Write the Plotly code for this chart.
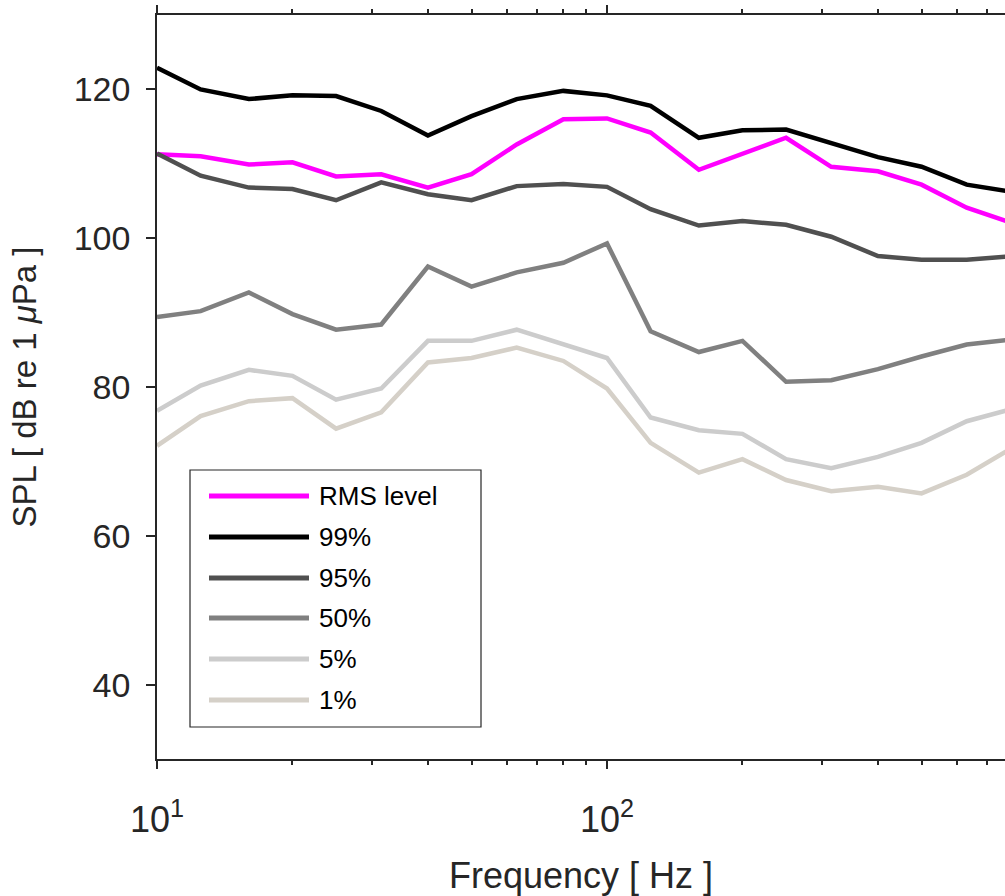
import plotly.graph_objects as go

# ---------------- data ----------------
freq = [10, 12.5, 16, 20, 25, 31.5, 40, 50, 63, 80, 100, 125, 160, 200, 250, 315, 400, 500, 630, 800]

rms   = [111.3, 111.0, 109.9, 110.2, 108.3, 108.6, 106.8, 108.6, 112.6, 116.0, 116.1, 114.2, 109.2, 111.3, 113.5, 109.6, 109.0, 107.2, 104.1, 102.0]
p99   = [122.9, 120.0, 118.7, 119.2, 119.1, 117.1, 113.8, 116.4, 118.7, 119.8, 119.2, 117.8, 113.5, 114.5, 114.6, 112.8, 110.9, 109.6, 107.2, 106.2]
p95   = [111.4, 108.4, 106.8, 106.6, 105.1, 107.5, 105.9, 105.1, 107.0, 107.3, 106.9, 103.9, 101.7, 102.3, 101.8, 100.2, 97.6, 97.1, 97.1, 97.6]
p50   = [89.4, 90.2, 92.7, 89.8, 87.7, 88.4, 96.2, 93.5, 95.4, 96.7, 99.3, 87.5, 84.7, 86.2, 80.7, 80.9, 82.4, 84.1, 85.7, 86.4]
p05   = [76.8, 80.2, 82.3, 81.5, 78.3, 79.8, 86.2, 86.2, 87.7, 85.7, 83.9, 75.9, 74.2, 73.7, 70.3, 69.1, 70.6, 72.5, 75.4, 77.1]
p01   = [72.1, 76.1, 78.1, 78.5, 74.4, 76.6, 83.3, 83.9, 85.3, 83.5, 79.8, 72.5, 68.5, 70.3, 67.5, 66.0, 66.6, 65.7, 68.2, 71.9]

series_names = ["RMS level", "99%", "95%", "50%", "5%", "1%"]
series_vals = [rms, p99, p95, p50, p05, p01]
series_colors = ["#FF00FF", "#000000", "#505050", "#808080", "#CCCCCC", "#D5D0C8"]

xtick_vals = [10, 100]
xtick_text = ["10<sup>1</sup>", "10<sup>2</sup>"]
xminor_vals = [20, 30, 40, 50, 60, 70, 80, 90, 200, 300, 400, 500, 600, 700]
ytick_vals = [40, 60, 80, 100, 120]

# ---------------- layout geometry (pixels) ----------------
W, H = 1005, 896
L, R, T, B = 157, 0, 15, 137
PW, PH = W - L - R, H - T - B
DECADE_PX = 450.0
FONT = "Liberation Sans, Arial, Helvetica, sans-serif"
TXT = "#262626"


def px(x):
    return (x - L) / PW


def py(y):
    return (H - B - y) / PH


fig = go.Figure()
for name, vals, col in zip(series_names, series_vals, series_colors):
    fig.add_trace(go.Scatter(x=freq, y=vals, mode="lines", name=name,
                             line=dict(color=col, width=4.5), showlegend=False))

# ---------------- custom legend (MATLAB style) ----------------
shapes = [dict(type="rect", xref="paper", yref="paper",
               x0=px(190), x1=px(481), y0=py(727), y1=py(470),
               line=dict(color=TXT, width=1.2), fillcolor="white", layer="above")]
annotations = []
row_y = [496, 537, 578, 618, 659, 700]
for name, col, ry in zip(series_names, series_colors, row_y):
    shapes.append(dict(type="line", xref="paper", yref="paper",
                       x0=px(209), x1=px(309), y0=py(ry), y1=py(ry),
                       line=dict(color=col, width=5), layer="above"))
    annotations.append(dict(xref="paper", yref="paper", x=px(317), y=py(ry),
                            text=name, showarrow=False, xanchor="left", yanchor="middle",
                            font=dict(family=FONT, size=26, color="#000000")))

fig.update_layout(
    width=W, height=H,
    margin=dict(l=L, r=R, t=T, b=B, pad=0),
    paper_bgcolor="white", plot_bgcolor="white",
    font=dict(family=FONT, size=34, color=TXT),
    shapes=shapes, annotations=annotations,
    showlegend=False,
)

fig.update_xaxes(
    type="log", range=[1, 1 + PW / DECADE_PX],
    tickvals=xtick_vals, ticktext=xtick_text,
    ticks="outside", ticklen=8, tickwidth=1.5, tickcolor=TXT,
    minor=dict(tickvals=xminor_vals, ticks="outside", ticklen=4, tickwidth=1.5, tickcolor=TXT),
    showline=True, linecolor=TXT, linewidth=1.5, mirror="ticks",
    showgrid=False, zeroline=False,
    ticklabelstandoff=20,
    tickfont=dict(family=FONT, size=36, color=TXT),
    title=dict(text="Frequency [ Hz ]", font=dict(family=FONT, size=36, color=TXT), standoff=24),
)
fig.update_yaxes(
    range=[30, 130], tickvals=ytick_vals,
    ticks="outside", ticklen=9, tickwidth=1.5, tickcolor=TXT,
    showline=True, linecolor=TXT, linewidth=1.5, mirror=False,
    showgrid=False, zeroline=False,
    ticklabelstandoff=9,
    tickfont=dict(family=FONT, size=34, color=TXT),
    title=dict(text="SPL [ dB re 1 <i>μ</i>Pa ]", font=dict(family=FONT, size=33, color=TXT), standoff=27),
)

fig.write_html("out.html", config={"displayModeBar": False},
               post_script="document.body.style.margin='0px';")
